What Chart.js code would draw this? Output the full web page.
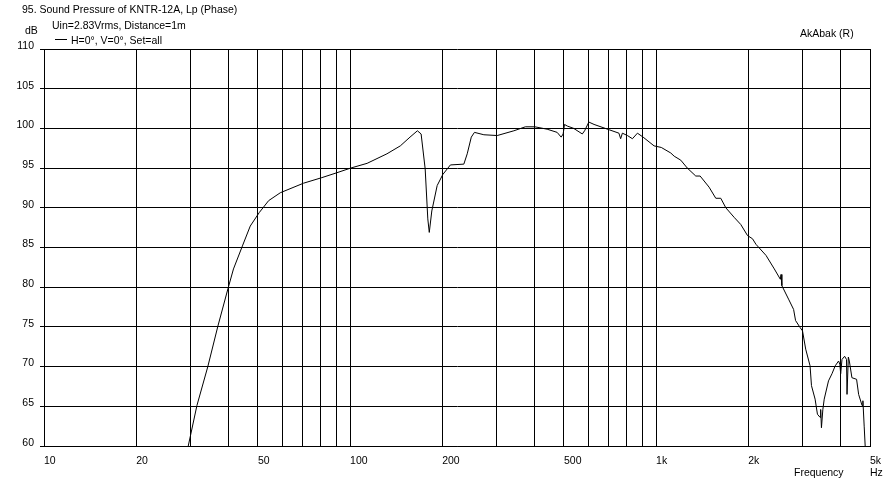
<!DOCTYPE html>
<html>
<head>
<meta charset="utf-8">
<script src="https://cdn.jsdelivr.net/npm/chart.js@4.4.1/dist/chart.umd.min.js"></script>
<style>
  html, body { margin: 0; padding: 0; background: #fff; }
  #wrap { width: 896px; height: 483px; }
</style>
</head>
<body>
<div id="wrap"><canvas id="chart" width="896" height="483"></canvas></div>
<script>
// Frequency response (Hz, dB)
const freqHz = [
  29.6, 31.6, 34.3, 37.0, 39.9, 41.6, 44.5, 47.2, 50.5, 54.2, 59.2, 70.5, 80.9, 90.3,
  100.4, 113.7, 132, 146, 157, 166, 170.7, 176, 179.5, 181.5, 185, 192.6, 201, 212.8,
  235.4, 241.5, 249, 255, 273.7, 302.6, 343, 374, 401.6, 440.6, 475, 489.6, 497, 502,
  512.6, 538, 574, 584, 603, 627, 706, 756, 766, 776, 806, 837, 869, 907, 985, 1040,
  1117, 1146, 1204, 1265, 1348, 1393, 1490, 1567, 1627, 1690, 1799, 1891, 1990, 2066,
  2120, 2287, 2434, 2547, 2560, 2576, 2709, 2814, 2856, 2958, 3009, 3082, 3185, 3219,
  3308, 3367, 3436, 3450, 3470, 3507, 3543, 3659, 3756, 3849, 3947, 3985, 4010, 4050,
  4131, 4190, 4206, 4248, 4280, 4364, 4520, 4590, 4710, 4740, 4786, 4822
];
const splDb = [
  60.0, 65.1, 70.0, 75.1, 79.8, 82.3, 85.2, 87.7, 89.4, 90.9, 91.9, 93.1, 93.8, 94.4,
  95.0, 95.6, 96.8, 97.8, 98.9, 99.7, 99.3, 94.9, 88.6, 86.9, 89.6, 92.8, 94.2, 95.4,
  95.5, 96.8, 98.9, 99.5, 99.2, 99.1, 99.7, 100.2, 100.2, 99.9, 99.5, 98.9, 99.3, 100.5,
  100.3, 100.0, 99.3, 99.7, 100.8, 100.5, 99.8, 99.4, 98.7, 99.4, 99.1, 98.7, 99.4, 98.9, 97.8, 97.6,
  96.9, 96.5, 96.0, 95.0, 94.0, 94.0, 92.6, 91.2, 91.2, 90.0, 88.8, 87.9, 86.5, 86.1,
  85.4, 84.0, 82.3, 81.0, 81.6, 80.2, 78.5, 77.2, 75.8, 74.9, 74.5, 72.2, 70.1, 67.6,
  65.9, 64.0, 63.6, 64.6, 62.3, 64.6, 65.9, 68.2, 69.1, 70.1, 70.7, 70.3, 69.1, 70.9,
  71.3, 70.9, 66.5, 71.2, 70.7, 68.6, 68.4, 66.5, 65.1, 65.7, 62.5, 60.0
];

// Axis ticks
const xGridFreqs = [10, 20, 30, 40, 50, 60, 70, 80, 90, 100, 200, 300, 400, 500, 600, 700, 800, 900,
  1000, 2000, 3000, 4000, 5000];
const xLabelFreqs = [10, 20, 50, 100, 200, 500, 1000, 2000, 5000];
const xTickLabels = ['10', '20', '50', '100', '200', '500', '1k', '2k', '5k'];
const yTicks = [60, 65, 70, 75, 80, 85, 90, 95, 100, 105, 110];

const FONT_FAMILY = '"Liberation Sans", Arial, sans-serif';
const FONT_SIZE = 10.5;

// Header, legend and axis captions drawn like the original program does
const captions = {
  id: 'captions',
  afterDraw(chart) {
    const ctx = chart.ctx;
    ctx.save();
    ctx.fillStyle = '#000';
    ctx.font = FONT_SIZE + 'px ' + FONT_FAMILY;
    ctx.textBaseline = 'alphabetic';
    ctx.textAlign = 'left';
    ctx.fillText('95. Sound Pressure of KNTR-12A, Lp (Phase)', 22, 13);
    ctx.fillText('Uin=2.83Vrms, Distance=1m', 52, 29);
    ctx.fillText('dB', 25, 34);
    ctx.fillText('H=0°, V=0°, Set=all', 71, 44);
    ctx.fillText('AkAbak (R)', 800, 37);
    ctx.fillText('Frequency', 794, 476);
    ctx.fillText('Hz', 870, 476);
    // legend sample line
    ctx.strokeStyle = '#000';
    ctx.lineWidth = 1;
    ctx.beginPath();
    ctx.moveTo(55, 39.5);
    ctx.lineTo(67, 39.5);
    ctx.stroke();
    ctx.restore();
  }
};

const points = freqHz.map((f, i) => ({ x: f, y: splDb[i] }));

new Chart(document.getElementById('chart').getContext('2d'), {
  type: 'line',
  data: {
    datasets: [{
      label: 'H=0°, V=0°, Set=all',
      data: points,
      borderColor: '#000',
      borderWidth: 1,
      pointRadius: 0,
      tension: 0,
      fill: false
    }]
  },
  options: {
    responsive: false,
    animation: false,
    layout: { padding: { top: 49, right: 26, left: 0, bottom: 0 } },
    plugins: {
      legend: { display: false },
      tooltip: { enabled: false }
    },
    scales: {
      x: {
        type: 'logarithmic',
        min: 10,
        max: 5000,
        afterBuildTicks: scale => { scale.ticks = xGridFreqs.map(v => ({ value: v })); },
        afterFit: scale => { scale.height = 37; },
        ticks: {
          autoSkip: false,
          maxRotation: 0,
          align: 'start',
          padding: 9,
          color: '#000',
          font: { family: FONT_FAMILY, size: FONT_SIZE },
          callback: value => {
            const k = xLabelFreqs.indexOf(value);
            return k >= 0 ? xTickLabels[k] : '';
          }
        },
        grid: { color: '#000', lineWidth: 1, drawTicks: false },
        border: { color: '#000' }
      },
      y: {
        min: 60,
        max: 110,
        afterBuildTicks: scale => { scale.ticks = yTicks.map(v => ({ value: v })); },
        afterFit: scale => { scale.width = 44; },
        ticks: {
          padding: 6,
          labelOffset: -3,
          color: '#000',
          font: { family: FONT_FAMILY, size: FONT_SIZE }
        },
        grid: { color: '#000', lineWidth: 1, tickLength: 4 },
        border: { color: '#000' }
      }
    }
  },
  plugins: [captions]
});
</script>
</body>
</html>
